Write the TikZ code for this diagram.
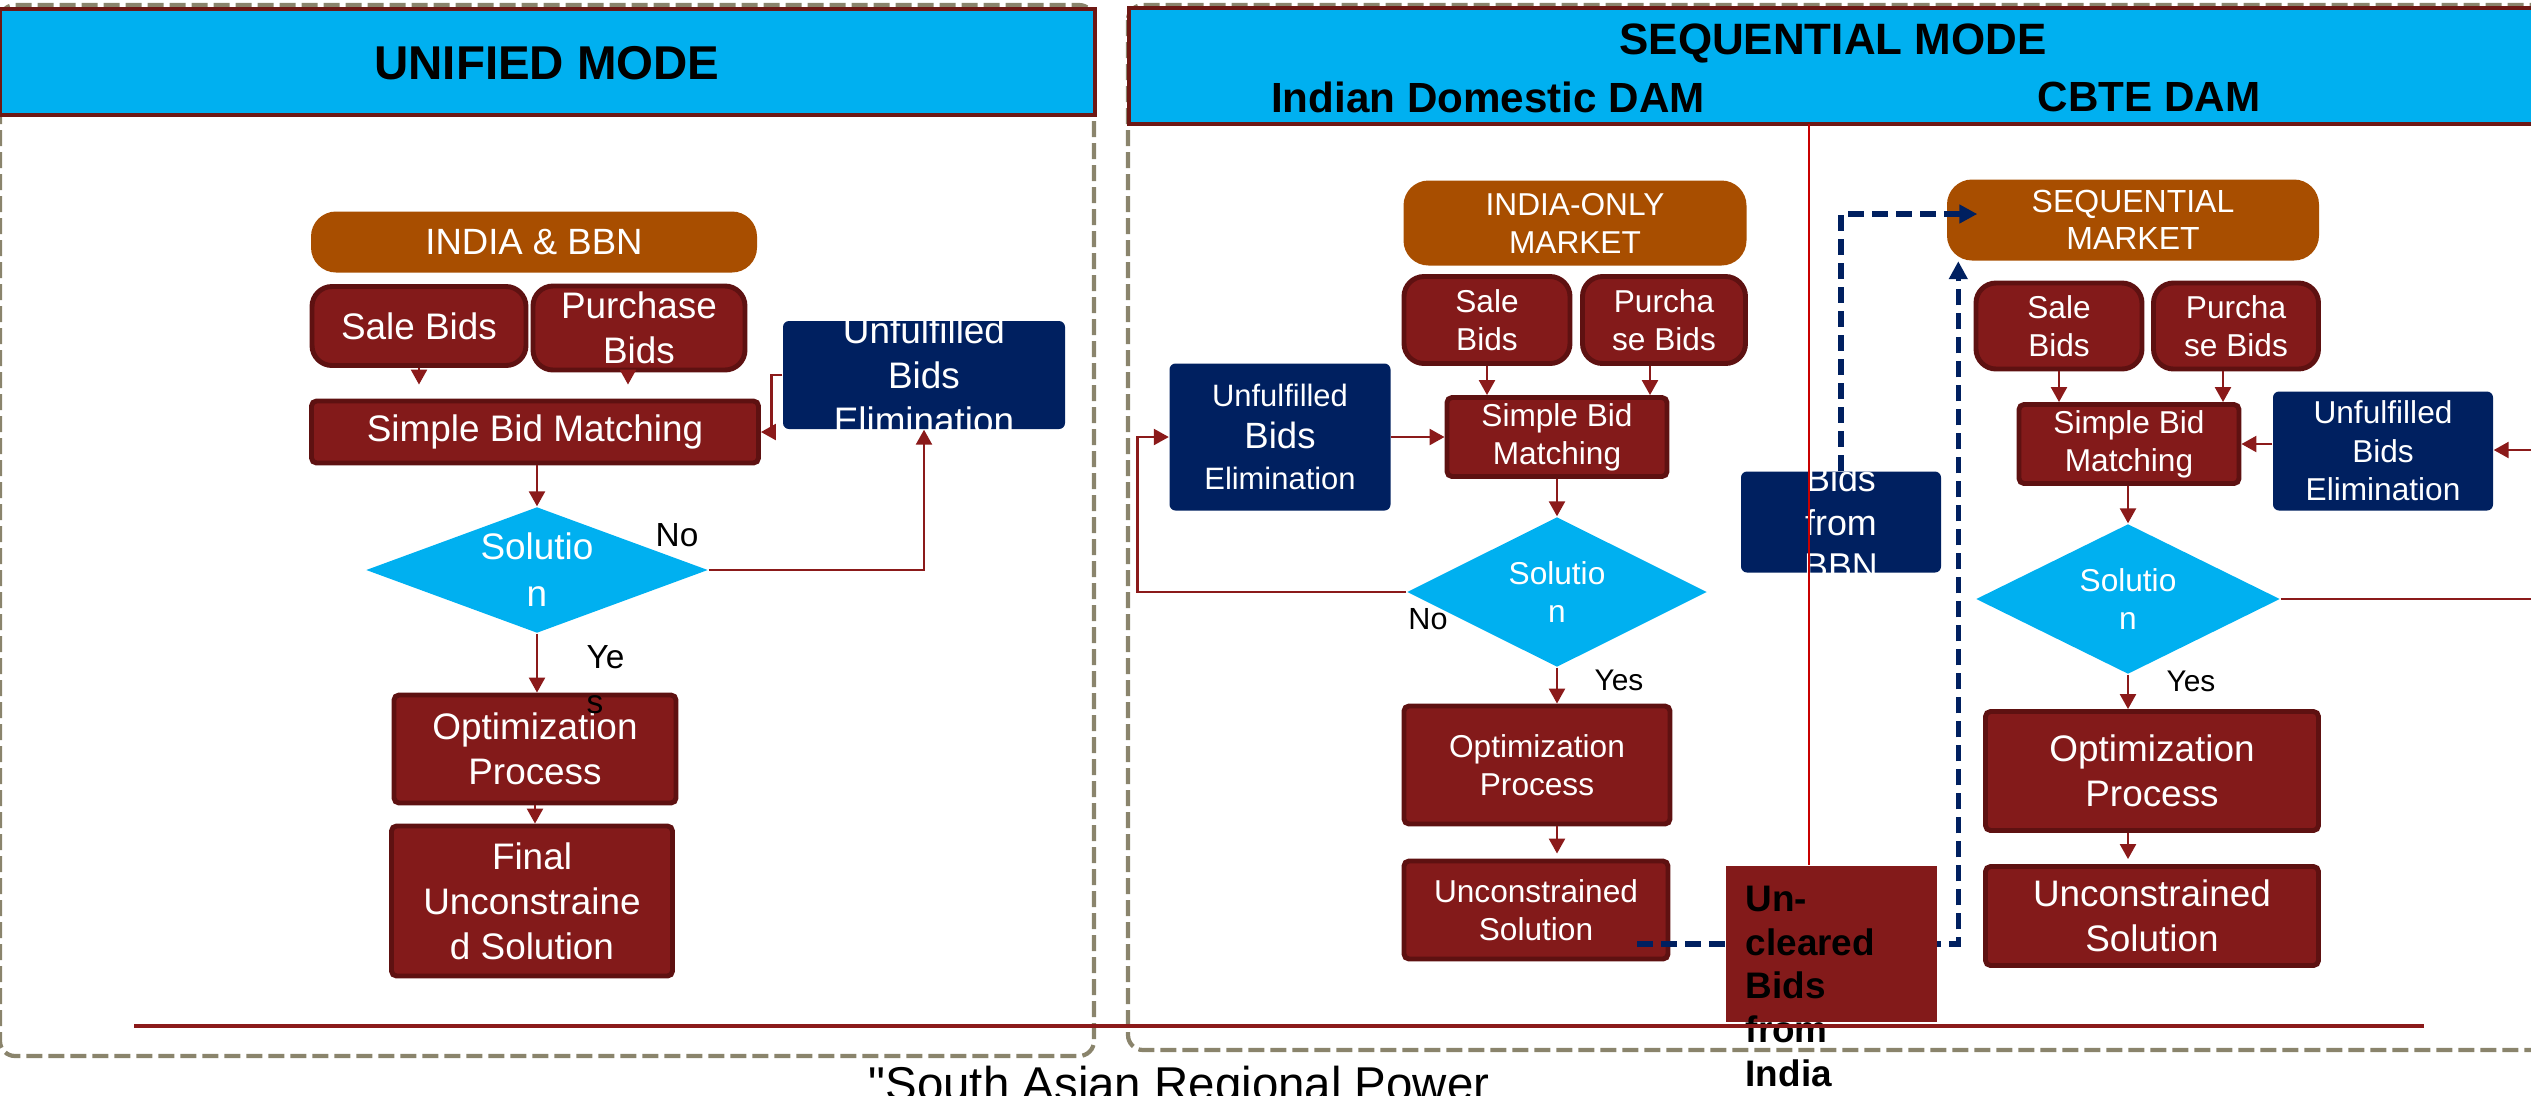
\documentclass[tikz,border=0pt]{standalone}
\usepackage{fontspec}
\setmainfont{Liberation Sans}
\usepackage{xcolor}
\usepackage{tikz}
\usetikzlibrary{shapes.geometric,arrows.meta,calc}

\definecolor{skyblue}{RGB}{0,176,240}
\definecolor{hdrrim}{RGB}{110,24,20}
\definecolor{mktorange}{RGB}{168,78,0}
\definecolor{bidred}{RGB}{131,26,26}
\definecolor{bidrim}{RGB}{94,17,17}
\definecolor{elimnavy}{RGB}{0,32,96}
\definecolor{flowred}{RGB}{139,26,26}
\definecolor{paneldash}{RGB}{138,132,108}
\definecolor{splitred}{RGB}{200,0,0}

\newcommand{\leftfont}{\fontsize{10.5}{12.8}\selectfont}
\newcommand{\seqfont}{\fontsize{9}{10.8}\selectfont}
\newcommand{\seqbigfont}{\fontsize{10.5}{12.8}\selectfont}

\tikzset{
  panel/.style={draw=paneldash, line width=1.2pt, dash pattern=on 1.6mm off 0.6mm, rounded corners=1.5mm},
  hdrbar/.style={fill=skyblue, draw=hdrrim, line width=1.2pt, inner sep=0pt},
  hdtext/.style={inner sep=0pt, text=black},
  mktbox/.style={fill=mktorange, rounded corners=2.5mm, text=white, align=center, inner sep=0pt},
  bidbox/.style={fill=bidred, draw=bidrim, line width=1.4pt, rounded corners=2mm, text=white, align=center, inner sep=0pt},
  procbox/.style={fill=bidred, draw=bidrim, line width=1.4pt, rounded corners=0.5mm, text=white, align=center, inner sep=0pt},
  elimbox/.style={fill=elimnavy, rounded corners=0.6mm, text=white, align=center, inner sep=0pt},
  elimtext/.style={text=white, align=center, inner sep=0pt},
  decision/.style={diamond, aspect=2.7, fill=skyblue, text=white, align=center, inner sep=0pt},
  tag/.style={inner sep=0pt, text=black},
  link/.style={draw=flowred, line width=0.7pt},
  flow/.style={link, -{Triangle[length=1.5mm,width=1.6mm]}},
  feed/.style={draw=elimnavy, line width=1.5pt, dash pattern=on 1.6mm off 0.8mm, -{Triangle[length=1.8mm,width=1.8mm]}},
  splitline/.style={draw=splitred, line width=0.6pt},
  footrule/.style={draw=flowred, line width=0.9pt},
}

\begin{document}
\begin{tikzpicture}[x=0.1mm,y=0.1mm,yscale=-1,xscale=1]
\useasboundingbox (0,0) rectangle (2531,1095);
\clip (0,0) rectangle (2531,1095);

%Shape: Panels
\draw[panel] (0,5) rectangle (1094,1056);
\draw[panel] (1128,5) rectangle (2580,1050);

%Shape: Header bars
\node[hdrbar, minimum width=109.5mm, minimum height=10.6mm] (hdrL) at (547.5,62) {};
\node[hdrbar, minimum width=143.1mm, minimum height=11.6mm] (hdrR) at (1844.5,66) {};
% Text Node
\node[hdtext, font=\bfseries\fontsize{13.5}{16}\selectfont] (ttlL) at (547,63) {UNIFIED MODE};
\node[hdtext, font=\bfseries\fontsize{12.5}{15}\selectfont] (ttlR) at (1833,43) {SEQUENTIAL MODE};
\node[hdtext, font=\bfseries\fontsize{12}{14}\selectfont] (subI) at (1488,97) {Indian Domestic DAM};
\node[hdtext, font=\bfseries\fontsize{12}{14}\selectfont] (subC) at (2149,97) {CBTE DAM};

%Unified mode
\node[mktbox, minimum width=44.6mm, minimum height=6.1mm, font=\fontsize{10.4}{12.5}\selectfont] (mktL) at (534,242) {INDIA \& BBN};
\node[bidbox, minimum width=21.4mm, minimum height=7.9mm, font=\leftfont] (saleL) at (419,326) {Sale Bids};
\node[bidbox, minimum width=21.2mm, minimum height=8.4mm, font=\leftfont] (purL) at (639,328) {Purchase\\Bids};
\node[procbox, minimum width=44.7mm, minimum height=6.2mm, font=\leftfont] (sbmL) at (535,432) {Simple Bid Matching};
\node[elimbox, minimum width=28.2mm, minimum height=10.8mm] (uelimL) at (924,375) {};
\node[elimtext, font=\leftfont] (uelimLtxt) at (uelimL) {Unfulfilled\\Bids\\Elimination};
\node[decision, minimum width=34.2mm, minimum height=12.6mm, font=\fontsize{10.5}{13.4}\selectfont] (dmdL) at (537,570) {Solutio\\n};
\node[procbox, minimum width=28.2mm, minimum height=10.8mm, font=\leftfont] (optL) at (535,749) {Optimization\\Process};
\node[procbox, minimum width=28.1mm, minimum height=15mm, font=\leftfont] (finL) at (532,901) {Final\\Unconstraine\\d Solution};
\node[tag, font=\fontsize{9.5}{12}\selectfont] (noL) at (677,535) {No};
\node[tag, anchor=north west, align=left, font=\fontsize{9.5}{12.8}\selectfont] (yesL) at (586,645) {Ye\\s};

%Sequential mode, Indian domestic DAM
\node[mktbox, minimum width=34.3mm, minimum height=8.5mm, font=\seqfont] (mktI) at (1575,223) {INDIA-ONLY\\MARKET};
\node[bidbox, minimum width=16.6mm, minimum height=8.7mm, font=\seqfont] (saleI) at (1487,320) {Sale\\Bids};
\node[bidbox, minimum width=16.3mm, minimum height=8.7mm, font=\seqfont] (purI) at (1664,320) {Purcha\\se Bids};
\node[procbox, minimum width=22mm, minimum height=7.9mm, font=\seqfont] (sbmI) at (1557,437) {Simple Bid\\Matching};
\node[elimbox, minimum width=22.1mm, minimum height=14.7mm, font=\fontsize{8.8}{11.8}\selectfont] (uelimI) at (1280,437) {Unfulfilled\\{\fontsize{10.4}{11.8}\selectfont Bids}\\Elimination};
\node[decision, aspect=2, minimum width=30mm, minimum height=15mm, font=\seqfont] (dmdI) at (1557,592) {Solutio\\n};
\node[procbox, minimum width=26.6mm, minimum height=11.8mm, font=\seqfont] (optI) at (1537,765) {Optimization\\Process};
\node[procbox, minimum width=26.4mm, minimum height=9.8mm, font=\seqfont] (unsI) at (1536,910) {Unconstrained\\Solution};
\node[tag, font=\fontsize{8.7}{10}\selectfont] (noI) at (1428,619) {No};
\node[tag, font=\fontsize{8.5}{10}\selectfont] (yesI) at (1619,680) {Yes};

\node[elimbox, minimum width=20mm, minimum height=10.1mm] (bbn) at (1841,522) {};
\node[elimtext, font=\fontsize{10.2}{12.5}\selectfont] (bbntxt) at (bbn) {Bids\\from\\BBN};

%Sequential mode, CBTE DAM
\node[mktbox, minimum width=37.2mm, minimum height=8.1mm, font=\fontsize{9.1}{10.5}\selectfont] (mktS) at (2133,220) {SEQUENTIAL\\MARKET};
\node[bidbox, minimum width=16.6mm, minimum height=8.6mm, font=\seqfont] (saleS) at (2059,326) {Sale\\Bids};
\node[bidbox, minimum width=16.5mm, minimum height=8.6mm, font=\seqfont] (purS) at (2236,326) {Purcha\\se Bids};
\node[procbox, minimum width=22mm, minimum height=7.9mm, font=\seqfont] (sbmS) at (2129,444) {Simple Bid\\Matching};
\node[elimbox, minimum width=22mm, minimum height=11.9mm, font=\fontsize{9}{11}\selectfont] (uelimS) at (2383,451) {Unfulfilled\\Bids\\Elimination};
\node[decision, aspect=2, minimum width=30.4mm, minimum height=15mm, font=\seqfont] (dmdS) at (2128,599) {Solutio\\n};
\node[procbox, minimum width=33.3mm, minimum height=11.9mm, font=\seqbigfont] (optS) at (2152,771) {Optimization\\Process};
\node[procbox, minimum width=33.3mm, minimum height=9.9mm, font=\seqbigfont] (unsS) at (2152,916) {Unconstrained\\Solution};
\node[tag, font=\fontsize{8.5}{10}\selectfont] (yesS) at (2191,681) {Yes};
\coordinate (offU) at (2560,450);
\coordinate (offN) at (2560,599);

%Connectors, unified
\draw[flow, shorten >=1.4mm] (saleL.south) -- (saleL.south |- sbmL.north);
\draw[flow, shorten >=1.4mm] ([xshift=-1.1mm]purL.south) -- ([xshift=-1.1mm]purL.south |- sbmL.north);
\draw[flow] (uelimL.west) -- ++(-11,0) |- (sbmL.east);
\draw[flow] (sbmL.south -| dmdL.north) -- (dmdL.north);
\draw[flow] (dmdL.east) -| (uelimL.south);
\draw[flow] (dmdL.south) -- (dmdL.south |- optL.north);
\draw[flow] (optL.south) -- (optL.south |- finL.north);

%Connectors, Indian domestic
\draw[flow] (saleI.south) -- (saleI.south |- sbmI.north);
\draw[flow] ([xshift=-1.4mm]purI.south) -- ([xshift=-1.4mm]purI.south |- sbmI.north);
\draw[flow] (uelimI.east) -- (sbmI.west);
\draw[flow] (sbmI.south) -- (dmdI.north);
\draw[flow] (dmdI.west) -- ++(-269,0) |- (uelimI.west);
\draw[flow] (dmdI.south) -- (dmdI.south |- optI.north);
\draw[flow, shorten >=0.5mm] (dmdI |- optI.south) -- (dmdI |- unsI.north);

%Connectors, CBTE
\draw[flow] (saleS.south) -- (saleS.south |- sbmS.north);
\draw[flow] ([xshift=-1.3mm]purS.south) -- ([xshift=-1.3mm]purS.south |- sbmS.north);
\draw[flow] (sbmS.east -| uelimS.west) -- (sbmS.east);
\draw[flow] (offU) -- (offU -| uelimS.east);
\draw[flow] (sbmS.south -| dmdS.north) -- (dmdS.north);
\draw[link] (dmdS.east) -- (offN);
\draw[flow] (dmdS.south) -- (dmdS.south |- optS.north);
\draw[flow, shorten >=0.5mm] (dmdS |- optS.south) -- (dmdS |- unsS.north);

%Dashed feeds into the sequential market
\coordinate (feedA) at (1637,944);
\draw[feed] (feedA) -| ($(mktS.south west)+(12,0)$);
\draw[feed] (bbn.north) |- ($(mktS.west)+(31,-6)$);

\node[fill=bidred, minimum width=21.1mm, minimum height=15.6mm, inner sep=0pt] (unclr) at (1831,944) {};
\node[tag, anchor=north west, align=left, font=\bfseries\fontsize{10.5}{12.5}\selectfont] (unclrtxt) at (1745,885) {Un-\\cleared\\Bids\\from\\India};

%Straight Lines
\coordinate (splitTop) at (1809,124);
\draw[splitline] (splitTop) -- (splitTop |- unclr.north);
\draw[footrule] (134,1026) -- (2424,1026);

% Text Node
\node[anchor=base west, inner sep=0pt, font=\fontspec{Liberation Sans}\fontsize{13.5}{16}\selectfont] (caption) at (868,1100) {"South Asian Regional Power};
\end{tikzpicture}
\end{document}
